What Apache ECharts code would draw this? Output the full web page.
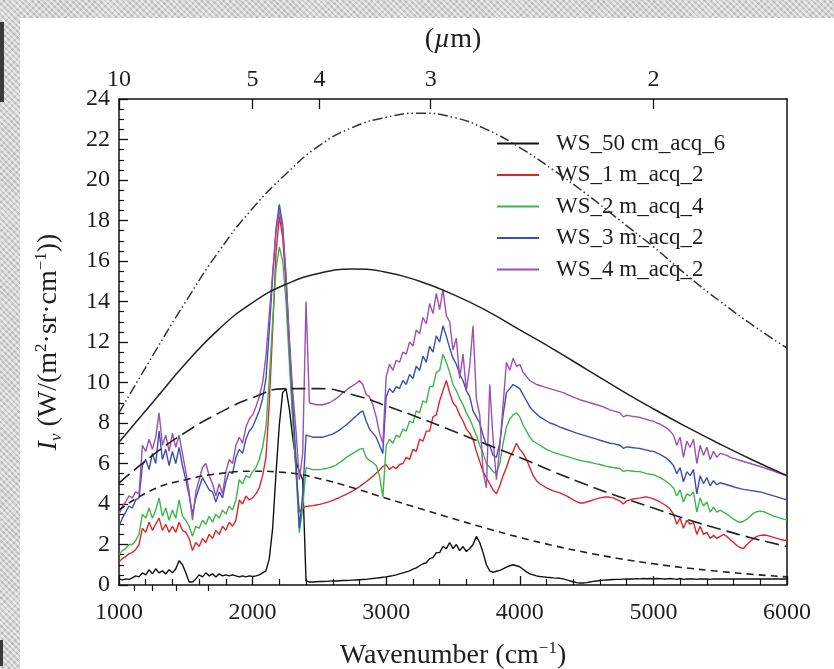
<!DOCTYPE html>
<html>
<head>
<meta charset="utf-8">
<script src="https://cdn.jsdelivr.net/npm/echarts@6/dist/echarts.min.js"></script>
<style>
  html, body { margin: 0; padding: 0; width: 834px; height: 669px; overflow: hidden; }
  body {
    background-color: #d2d2d2;
    background-image:
      repeating-linear-gradient(45deg, rgba(255,255,255,0.35) 0 2px, rgba(0,0,0,0.06) 2px 4px),
      repeating-linear-gradient(-45deg, rgba(255,255,255,0.25) 0 3px, rgba(0,0,0,0.05) 3px 5px);
  }
  #panel { position: absolute; left: 20px; top: 18px; right: 0; bottom: 0; background: #fff; }
  .edge { position: absolute; left: 0; width: 4px; background: #3a3a3a; }
  #chart { position: absolute; left: 0; top: 0; width: 834px; height: 669px; }
</style>
</head>
<body>
<div id="panel"></div>
<div class="edge" style="top:22px;height:80px"></div>
<div class="edge" style="top:640px;height:26px;width:3px"></div>
<div id="chart"></div>
<script>
// Sampling grid of the measured spectra (cm^-1), 25 cm^-1 steps from 1000 to 6000
const WAVENUMBER = [];
for (let w = 1000; w <= 6000; w += 25) WAVENUMBER.push(w);

const SERIES_NAMES = ['WS_50 cm_acq_6', 'WS_1 m_acq_2', 'WS_2 m_acq_4', 'WS_3 m_acq_2', 'WS_4 m_acq_2'];

// Measured radiance, one value per WAVENUMBER entry (rows of ten = 250 cm^-1)
const WS_50CM = [
  0.3, 0.25, 0.3, 0.28, 0.35, 0.45, 0.4, 0.6, 0.5, 0.75,
  0.55, 0.8, 0.6, 0.7, 0.55, 0.75, 0.6, 0.8, 1.2, 1.0,
  0.6, 0.15, 0.15, 0.3, 0.5, 0.4, 0.6, 0.45, 0.55, 0.4,
  0.55, 0.45, 0.5, 0.45, 0.5, 0.45, 0.4, 0.45, 0.4, 0.45,
  0.42, 0.45, 0.5, 0.6, 0.7, 1.3, 2.8, 5.5, 7.9, 9.5,
  9.7, 8.7, 7.3, 6.1, 5.6, 5.2, 0.2, 0.15, 0.15, 0.16,
  0.17, 0.17, 0.18, 0.19, 0.2, 0.2, 0.21, 0.22, 0.22, 0.23,
  0.24, 0.25, 0.26, 0.27, 0.28, 0.3, 0.32, 0.34, 0.36, 0.38,
  0.4, 0.43, 0.46, 0.5, 0.55, 0.6, 0.65, 0.7, 0.78, 0.85,
  0.95, 1.05, 1.1, 1.3, 1.35, 1.6, 1.6, 1.9, 1.8, 2.1,
  1.8, 2.0, 1.7, 1.9, 1.65, 1.8, 2.0, 2.4, 2.1, 1.6,
  1.0, 0.7, 0.62, 0.68, 0.72, 0.8, 0.88, 0.95, 1.0, 0.95,
  0.9, 0.78, 0.65, 0.55, 0.5, 0.45, 0.42, 0.4, 0.38, 0.37,
  0.35, 0.34, 0.33, 0.3, 0.25, 0.2, 0.16, 0.12, 0.1, 0.1,
  0.12, 0.15, 0.18, 0.2, 0.22, 0.24, 0.25, 0.26, 0.27, 0.28,
  0.28, 0.29, 0.3, 0.3, 0.3, 0.31, 0.3, 0.32, 0.31, 0.32,
  0.3, 0.32, 0.31, 0.3, 0.3, 0.32, 0.3, 0.28, 0.32, 0.28,
  0.3, 0.3, 0.3, 0.28, 0.3, 0.3, 0.3, 0.28, 0.3, 0.3,
  0.3, 0.3, 0.3, 0.3, 0.3, 0.3, 0.3, 0.3, 0.3, 0.3,
  0.3, 0.3, 0.3, 0.3, 0.3, 0.3, 0.3, 0.3, 0.3, 0.3,
  0.3
];
const WS_1M = [
  1.15, 1.3, 1.4, 1.55, 1.6, 1.75, 2.0, 2.8, 2.6, 3.1,
  2.7, 3.0, 3.3, 2.7, 3.0, 2.6, 2.9, 2.6, 3.1, 2.7,
  2.6, 2.3, 1.7, 2.1, 1.9, 2.3, 2.1, 2.5, 2.3, 2.7,
  2.5, 2.9, 2.7, 3.1, 2.9, 3.2, 4.2, 4.0, 4.4, 4.2,
  4.3, 4.5, 4.8, 5.4, 6.3, 9.0, 12.6, 16.4, 18.2, 17.2,
  14.8, 11.6, 8.4, 5.6, 3.6, 3.8, 3.88, 3.9, 3.92, 3.95,
  3.98, 4.02, 4.07, 4.12, 4.18, 4.25, 4.32, 4.4, 4.48, 4.56,
  4.65, 4.75, 4.86, 4.98, 5.1, 5.23, 5.37, 5.52, 5.68, 5.85,
  5.95, 5.7, 5.85, 5.75, 5.95, 6.0, 6.3, 6.2, 6.7, 6.6,
  7.2, 7.1, 7.6, 7.6, 8.3, 8.4, 9.1, 9.6, 10.1, 9.5,
  9.0, 8.8, 8.4, 8.1, 7.7, 7.5, 7.2, 6.6, 6.1, 5.6,
  5.3, 5.0, 4.7, 4.5, 4.9, 5.4, 5.8, 6.3, 6.6, 7.0,
  6.7, 6.5, 6.2, 5.8, 5.4, 5.15, 5.0, 4.9, 4.8, 4.72,
  4.65, 4.6, 4.55, 4.48, 4.4, 4.3, 4.2, 4.12, 4.05, 4.05,
  4.1, 4.15, 4.2, 4.25, 4.3, 4.33, 4.35, 4.33, 4.3, 4.22,
  4.15, 4.0, 4.15, 4.2, 4.25, 4.28, 4.3, 4.33, 4.35, 4.3,
  4.25, 4.18, 4.1, 4.0, 3.9, 3.75, 3.5, 3.0, 3.3, 2.8,
  3.2, 3.0, 3.1, 2.5, 2.9, 2.5, 2.6, 2.3, 2.45, 2.3,
  2.4, 2.5, 2.4, 2.25, 2.1, 1.95, 1.85, 1.8, 2.0, 2.15,
  2.3, 2.4, 2.45, 2.47, 2.45, 2.4, 2.35, 2.3, 2.25, 2.22,
  2.2
];
const WS_2M = [
  1.5, 1.7, 1.8, 2.0, 2.0, 2.2, 2.5, 3.5, 3.3, 3.8,
  3.3, 3.7, 4.3, 3.4, 3.8, 3.2, 3.7, 3.3, 4.2, 3.4,
  3.2, 2.9, 2.4, 2.9, 2.8, 3.2, 3.0, 3.4, 3.1, 3.5,
  3.3, 3.7, 3.5, 3.9, 3.7, 4.2, 5.2, 5.0, 5.4, 5.3,
  5.6, 5.8, 6.2, 6.8, 7.8, 10.2, 13.0, 15.6, 16.7, 16.0,
  14.0, 11.0, 8.2, 5.6, 2.6, 3.8, 5.8, 5.75, 5.7, 5.7,
  5.7, 5.72, 5.75, 5.8, 5.85, 5.92, 6.05, 6.15, 6.3, 6.4,
  6.5, 6.6, 6.7, 6.75, 6.3, 6.15, 6.05, 5.9, 5.4, 4.35,
  6.9, 7.2, 7.0, 7.4, 7.3, 7.7, 7.6, 8.1, 8.0, 8.6,
  8.5, 9.1, 9.0, 9.8, 9.8, 10.5, 10.6, 11.4, 11.0, 10.5,
  9.9, 9.6, 9.2, 8.9, 8.5, 8.2, 7.8, 7.4, 6.9, 6.5,
  6.0, 5.8, 5.6, 5.5, 6.0, 7.0, 7.8, 8.2, 8.4, 8.5,
  8.3, 7.9, 7.6, 7.3, 7.1, 7.0, 6.9, 6.8, 6.7, 6.62,
  6.55, 6.5, 6.45, 6.4, 6.35, 6.3, 6.25, 6.2, 6.15, 6.12,
  6.1, 6.06, 6.02, 5.98, 5.95, 5.9, 5.86, 5.83, 5.8, 5.78,
  5.75, 5.6, 5.66, 5.64, 5.62, 5.6, 5.6, 5.55, 5.5, 5.47,
  5.45, 5.38, 5.3, 5.2, 5.1, 4.95, 4.8, 4.4, 4.7, 4.1,
  4.5, 4.4, 4.6, 3.6, 4.3, 3.9, 4.1, 3.6, 3.85, 3.6,
  3.7, 3.6, 3.5, 3.38, 3.25, 3.15, 3.1, 3.15, 3.25, 3.4,
  3.55, 3.62, 3.65, 3.62, 3.55, 3.48, 3.4, 3.35, 3.3, 3.25,
  3.2
];
const WS_3M = [
  2.9, 3.3, 3.6, 3.9, 3.8, 4.2, 4.3, 5.9, 6.2, 5.7,
  6.5, 6.0, 7.6, 6.2, 6.7, 5.9, 6.6, 6.0, 6.8, 5.9,
  5.2, 4.4, 3.5, 4.3, 4.8, 5.3, 5.0, 4.7, 4.6, 4.1,
  4.6, 4.3, 5.1, 5.6, 5.5, 6.3, 6.7, 6.5, 7.2, 7.6,
  7.8, 8.2, 8.6, 9.2, 10.2, 12.6, 15.2, 17.6, 18.8, 17.8,
  15.2, 12.0, 9.0, 6.2, 2.8, 4.5, 7.4, 7.35, 7.3, 7.3,
  7.3, 7.3, 7.35, 7.4, 7.45, 7.55, 7.65, 7.78, 7.9, 8.05,
  8.2, 8.35, 8.5, 8.6, 8.1, 7.7, 7.5, 7.3, 6.9, 6.5,
  9.3, 9.7, 9.5, 9.8, 9.7, 10.1, 9.9, 10.4, 10.2, 10.8,
  10.6, 11.3, 11.0, 11.8, 11.5, 12.3, 12.0, 12.8, 12.3, 11.7,
  11.2, 10.9, 10.4, 10.1, 9.6, 9.3, 8.6, 8.3, 8.0, 7.4,
  6.9, 6.9, 6.4, 6.3, 7.0, 8.4, 9.5, 9.7, 9.9, 9.8,
  9.7, 9.4, 9.1, 8.8, 8.6, 8.45, 8.3, 8.2, 8.1, 8.0,
  7.95, 7.88, 7.8, 7.74, 7.68, 7.62, 7.56, 7.5, 7.45, 7.4,
  7.35, 7.3, 7.25, 7.2, 7.15, 7.1, 7.05, 7.0, 6.98, 6.94,
  6.9, 6.75, 6.82, 6.8, 6.78, 6.76, 6.74, 6.7, 6.66, 6.62,
  6.6, 6.52, 6.45, 6.35, 6.25, 6.1, 5.9, 5.5, 5.8, 5.1,
  5.6, 5.4, 5.7, 4.5, 5.4, 5.0, 5.3, 4.9, 5.15, 4.95,
  5.05, 5.0, 4.95, 4.9, 4.85, 4.8, 4.76, 4.72, 4.7, 4.67,
  4.65, 4.62, 4.6, 4.55, 4.5, 4.45, 4.4, 4.35, 4.3, 4.25,
  4.2
];
const WS_4M = [
  3.5, 3.9, 4.1, 4.4, 4.3, 4.6, 4.5, 6.9, 6.6, 7.2,
  6.7, 7.3, 8.5, 6.9, 7.4, 6.6, 7.5, 6.8, 7.4, 6.5,
  5.6, 4.6, 3.2, 4.6, 5.2, 5.8, 6.0, 5.4, 5.0, 4.4,
  5.0, 4.5, 5.6, 6.2, 6.0, 6.9, 7.3, 7.0, 7.8, 8.2,
  8.4, 8.8, 9.3, 10.0, 11.3, 13.4, 15.4, 17.4, 18.5, 17.6,
  15.3, 12.2, 9.6, 7.6, 5.2, 6.5, 14.0, 9.0, 8.95, 8.9,
  8.9, 8.9, 8.95, 9.0, 9.1, 9.2, 9.35, 9.5, 9.6, 9.75,
  9.85, 9.95, 10.1, 9.9, 9.4, 9.3, 8.9, 8.3, 7.5, 7.0,
  10.3, 10.9, 10.6, 11.1, 11.0, 11.5, 11.4, 12.0, 11.8, 12.6,
  12.4, 13.2, 12.9, 13.9, 13.4, 14.4, 13.6, 14.6, 13.3, 13.0,
  11.6, 12.2, 10.2, 11.4, 9.6, 10.8, 12.8, 9.2, 8.4, 5.6,
  4.8, 9.9, 7.2, 5.2, 6.8, 8.9, 11.0, 10.6, 11.2, 10.8,
  10.9, 10.5, 10.3, 10.1, 10.0, 9.9, 9.85, 9.8, 9.75, 9.7,
  9.65, 9.6, 9.55, 9.5, 9.42, 9.35, 9.28, 9.22, 9.15, 9.1,
  9.05, 9.0, 8.95, 8.9, 8.85, 8.8, 8.72, 8.65, 8.6, 8.55,
  8.5, 8.3, 8.38, 8.35, 8.32, 8.3, 8.27, 8.22, 8.18, 8.12,
  8.1, 8.0, 7.95, 7.85, 7.75, 7.6, 7.4, 6.9, 7.3, 6.3,
  7.1, 6.8, 7.2, 6.0, 6.9, 6.4, 6.8, 6.2, 6.6, 6.3,
  6.5, 6.45, 6.4, 6.3, 6.25, 6.2, 6.15, 6.1, 6.05, 6.0,
  5.95, 5.9, 5.85, 5.8, 5.74, 5.68, 5.62, 5.56, 5.5, 5.44,
  5.38
];

// Reference blackbody curves, sampled every 250 cm^-1
const REF_WN = [1000, 1250, 1500, 1750, 2000, 2250, 2500, 2750, 3000, 3250, 3500,
                3750, 4000, 4250, 4500, 4750, 5000, 5250, 5500, 5750, 6000];
const BB_DASHDOT = [8.5, 11.3, 14.0, 16.5, 18.6, 20.3, 21.7, 22.6, 23.1, 23.3, 23.1,
                    22.5, 21.6, 20.5, 19.3, 18.0, 16.7, 15.3, 14.0, 12.8, 11.7];
const BB_SOLID = [7.05, 9.0, 10.95, 12.65, 13.95, 14.85, 15.4, 15.6, 15.45, 15.0, 14.35,
                  13.55, 12.6, 11.65, 10.65, 9.65, 8.7, 7.8, 6.95, 6.15, 5.4];
const BB_LONGDASH = [5.03, 6.4, 7.55, 8.5, 9.25, 9.7, 9.7, 9.4, 8.85, 8.25, 7.6,
                     6.95, 6.3, 5.6, 4.95, 4.35, 3.8, 3.25, 2.75, 2.3, 1.9];
const BB_SHORTDASH = [3.7, 4.7, 5.2, 5.5, 5.62, 5.55, 5.25, 4.8, 4.28, 3.78, 3.28,
                      2.8, 2.35, 1.95, 1.6, 1.3, 1.05, 0.84, 0.67, 0.52, 0.4];

// Wavelength axis (µm): labelled and unlabelled tick positions
const MICRON_MAJOR = [10, 5, 4, 3, 2];
const MICRON_MINOR = [9, 8, 7, 6];

const FONT = '"Liberation Serif", "DejaVu Serif", serif';
const INK = '#1e1e1e';
const COLORS = ['#111111', '#d8262b', '#3cb54a', '#3a4fb5', '#9c50b0'];

const toWn = um => 10000 / um;
const pairs = (xs, ys) => xs.map((x, i) => [x, ys[i]]);

const measured = [WS_50CM, WS_1M, WS_2M, WS_3M, WS_4M].map((vals, i) => ({
  name: SERIES_NAMES[i],
  type: 'line',
  data: pairs(WAVENUMBER, vals),
  symbol: 'none',
  showSymbol: false,
  lineStyle: { color: COLORS[i], width: 1.4 },
  itemStyle: { color: COLORS[i] },
  z: 2 + i
}));

function refCurve(name, vals, type, width, color) {
  return {
    name: name,
    type: 'line',
    data: pairs(REF_WN, vals),
    smooth: 0.5,
    symbol: 'none',
    showSymbol: false,
    silent: true,
    lineStyle: { color: color, width: width, type: type },
    z: 10
  };
}

const refs = [
  refCurve('bb_1', BB_DASHDOT, [10, 3, 1.5, 3, 1.5, 3], 1.5, '#333'),
  refCurve('bb_2', BB_SOLID, 'solid', 1.5, '#222'),
  refCurve('bb_3', BB_LONGDASH, [14, 6], 1.6, '#222'),
  refCurve('bb_4', BB_SHORTDASH, [7, 5], 1.6, '#222')
];

const labelStyle = { fontFamily: FONT, fontSize: 24, color: INK };
const nameRich = {
  t: { fontFamily: FONT, fontSize: 28, color: INK, lineHeight: 32 },
  it: { fontFamily: FONT, fontSize: 28, color: INK, fontStyle: 'italic', lineHeight: 32 },
  sup: { fontFamily: FONT, fontSize: 17, color: INK, verticalAlign: 'top', lineHeight: 32 },
  sub: { fontFamily: FONT, fontSize: 17, color: INK, fontStyle: 'italic', verticalAlign: 'bottom', lineHeight: 32 }
};
const axisLine = { show: true, onZero: false, lineStyle: { color: '#111', width: 1.5 } };

const chart = echarts.init(document.getElementById('chart'), null, { renderer: 'canvas' });
chart.setOption({
  animation: false,
  backgroundColor: 'transparent',
  grid: { left: 119, right: 47, top: 99, bottom: 84, containLabel: false, outerBoundsMode: 'none' },
  legend: {
    data: SERIES_NAMES,
    orient: 'vertical',
    left: 487,
    top: 123,
    padding: [9, 10, 9, 10],
    backgroundColor: '#ffffff',
    icon: 'rect',
    itemWidth: 42,
    itemHeight: 2,
    itemGap: 8.5,
    textStyle: { fontFamily: FONT, fontSize: 23, color: INK, lineHeight: 22, padding: [0, 0, 0, 12] },
    selectedMode: false
  },
  xAxis: [
    {
      type: 'value', position: 'bottom', min: 1000, max: 6000, interval: 1000,
      axisLine: axisLine,
      axisTick: { inside: true, length: 9, lineStyle: { color: '#111', width: 1.3 } },
      minorTick: { show: true, splitNumber: 5, length: 6, lineStyle: { color: '#111', width: 1.2 } },
      splitLine: { show: false },
      axisLabel: Object.assign({ margin: 16, formatter: v => String(v) }, labelStyle),
      name: '{t|Wavenumber (cm}{sup|−1}{t|)}',
      nameLocation: 'middle', nameGap: 55,
      nameTextStyle: { rich: nameRich }
    },
    {
      type: 'value', position: 'top', min: 1000, max: 6000,
      axisLine: axisLine,
      axisTick: { inside: true, length: 10, customValues: MICRON_MAJOR.map(toWn), lineStyle: { color: '#111', width: 1.3 } },
      axisLabel: Object.assign({
        margin: 7,
        customValues: MICRON_MAJOR.map(toWn),
        formatter: v => String(Math.round(10000 / v))
      }, labelStyle),
      splitLine: { show: false },
      name: '{t|(}{it|µ}{t|m)}',
      nameLocation: 'middle', nameGap: 43,
      nameTextStyle: { rich: nameRich }
    },
    {
      type: 'value', position: 'top', min: 1000, max: 6000,
      axisLine: { show: false },
      axisTick: { inside: true, length: 6, customValues: MICRON_MINOR.map(toWn), lineStyle: { color: '#111', width: 1.2 } },
      axisLabel: { show: false },
      splitLine: { show: false }
    }
  ],
  yAxis: [
    {
      type: 'value', position: 'left', min: 0, max: 24, interval: 2,
      axisLine: axisLine,
      axisTick: { inside: true, length: 9, lineStyle: { color: '#111', width: 1.3 } },
      minorTick: { show: true, splitNumber: 4, length: 5, lineStyle: { color: '#111', width: 1.2 } },
      splitLine: { show: false },
      axisLabel: Object.assign({ margin: 9 }, labelStyle),
      name: '{it|I}{sub|ν}{t| (W/(m}{sup|2}{t|·sr·cm}{sup|−1}{t|))}',
      nameLocation: 'middle', nameGap: 54,
      nameTextStyle: { rich: nameRich }
    },
    {
      type: 'value', position: 'right', min: 0, max: 24,
      axisLine: axisLine,
      axisTick: { show: false },
      axisLabel: { show: false },
      splitLine: { show: false }
    }
  ],
  series: measured.concat(refs)
});
</script>
</body>
</html>
